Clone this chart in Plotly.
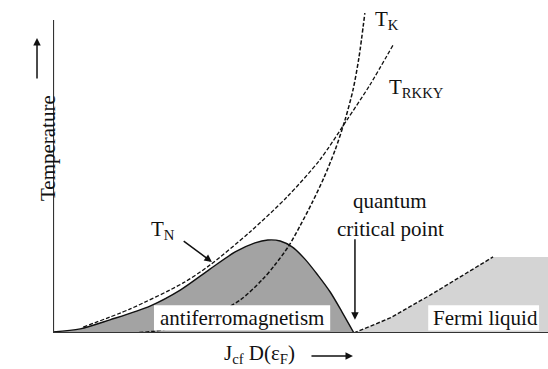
import plotly.graph_objects as go

# Doniach phase diagram: coupling J_cf D(eps_F) on x, temperature on y (arbitrary units)

# RKKY ordering scale
j_rkky = [0.61, 1.56, 2.63, 3.17, 3.98, 4.73, 5.39, 5.94, 6.40, 6.87]
t_rkky = [0.19, 0.77, 1.60, 2.17, 3.23, 4.35, 5.53, 6.81, 7.92, 9.20]

# Kondo scale
j_kondo = [1.62, 2.06, 2.67, 3.27, 3.78, 4.22, 4.48, 4.75, 4.99, 5.23, 5.47, 5.70, 5.90, 6.06, 6.18, 6.30]
t_kondo = [0.00, 0.06, 0.26, 0.61, 1.05, 1.69, 2.17, 2.75, 3.42, 4.15, 4.95, 5.85, 6.81, 7.76, 8.79, 10.22]

# Neel temperature (antiferromagnetic dome)
j_neel = [0.00, 0.55, 1.15, 1.96, 2.57, 3.17, 3.68, 4.08, 4.34, 4.59, 4.83, 5.09, 5.35, 5.60, 5.84, 6.08]
t_neel = [0.03, 0.13, 0.42, 0.86, 1.37, 2.04, 2.59, 2.88, 2.97, 2.94, 2.75, 2.36, 1.85, 1.31, 0.67, 0.00]

# Fermi-liquid crossover
j_fl = [6.08, 6.81, 7.62, 8.22, 8.89, 10.0]
t_fl = [0.00, 0.48, 1.21, 1.79, 2.43, 2.43]

j_qcp = 6.10

SERIF = "Liberation Serif"
INK = "#111111"
DARK = "#a3a3a3"
LIGHT = "#d4d4d4"

fig = go.Figure()

fig.add_trace(go.Scatter(x=j_fl, y=t_fl, mode="lines", fill="tozeroy",
                         fillcolor=LIGHT, line=dict(width=0, color=LIGHT),
                         hoverinfo="skip"))
fig.add_trace(go.Scatter(x=j_fl[:-1], y=t_fl[:-1], mode="lines",
                         line=dict(color=INK, width=1.4, dash="4px,2px")))
fig.add_trace(go.Scatter(x=j_neel, y=t_neel, mode="lines", fill="tozeroy",
                         fillcolor=DARK,
                         line=dict(color=INK, width=1.4, shape="spline", smoothing=0.8)))
fig.add_trace(go.Scatter(x=j_rkky, y=t_rkky, mode="lines",
                         line=dict(color=INK, width=1.3, dash="4px,2px",
                                   shape="spline", smoothing=0.8)))
fig.add_trace(go.Scatter(x=j_kondo, y=t_kondo, mode="lines",
                         line=dict(color=INK, width=1.5, dash="4px,2px",
                                   shape="spline", smoothing=0.8)))

# white label boxes and axis lines
shapes = [
    dict(type="rect", xref="x", yref="y", x0=2.04, x1=5.60, y0=0.08, y1=0.89,
         fillcolor="white", line=dict(width=0), layer="above"),
    dict(type="rect", xref="x", yref="y", x0=7.58, x1=9.82, y0=0.08, y1=0.89,
         fillcolor="white", line=dict(width=0), layer="above"),
    dict(type="line", xref="x", yref="y", x0=0, x1=10, y0=0, y1=0,
         line=dict(color="#333333", width=2.2), layer="above"),
    dict(type="line", xref="x", yref="y", x0=0, x1=0, y0=0, y1=10.0,
         line=dict(color="#333333", width=2.2), layer="above"),
]

font = dict(family=SERIF, size=21, color=INK)
annotations = [
    dict(x=3.82, y=0.48, xref="x", yref="y", text="antiferromagnetism",
         showarrow=False, font=font),
    dict(x=8.73, y=0.48, xref="x", yref="y", text="Fermi liquid",
         showarrow=False, font=font),
    dict(x=6.81, y=4.22, xref="x", yref="y", text="quantum",
         showarrow=False, font=font),
    dict(x=6.81, y=3.33, xref="x", yref="y", text="critical point",
         showarrow=False, font=font),
    dict(x=j_qcp, y=0.42, xref="x", yref="y", ax=j_qcp, ay=3.04,
         axref="x", ayref="y", text="", showarrow=True,
         arrowhead=2, arrowsize=1, arrowwidth=1.5, arrowcolor=INK),
    dict(x=3.21, y=2.27, xref="x", yref="y", ax=2.61, ay=2.97,
         axref="x", ayref="y", text="", showarrow=True,
         arrowhead=2, arrowsize=1, arrowwidth=1.5, arrowcolor=INK),
    dict(x=2.22, y=3.29, xref="x", yref="y", text="T<sub>N</sub>",
         showarrow=False, font=font),
    dict(x=6.75, y=10.0, xref="x", yref="y", text="T<sub>K</sub>",
         showarrow=False, font=font),
    dict(x=7.35, y=7.83, xref="x", yref="y", text="T<sub>RKKY</sub>",
         showarrow=False, font=font),
    # axis titles with their arrows
    dict(x=-0.038, y=0.556, xref="paper", yref="paper", text="Temperature",
         textangle=-90, showarrow=False, font=font),
    dict(x=-0.0323, y=0.886, xref="paper", yref="paper", ax=0, ay=42,
         text="", showarrow=True, arrowhead=2, arrowsize=1, arrowwidth=1.5,
         arrowcolor=INK),
    dict(x=0.418, y=-0.108, xref="paper", yref="paper",
         text="J<sub>cf</sub> D(ε<sub>F</sub>)", showarrow=False, font=font),
    dict(x=0.606, y=-0.069, xref="paper", yref="paper", ax=-43, ay=0,
         text="", showarrow=True, arrowhead=2, arrowsize=1, arrowwidth=1.5,
         arrowcolor=INK),
]

fig.update_layout(
    width=548, height=369, autosize=False,
    margin=dict(l=53, r=0, t=0, b=36),
    paper_bgcolor="white", plot_bgcolor="white",
    showlegend=False,
    xaxis=dict(range=[0, 10], visible=False, fixedrange=True),
    yaxis=dict(range=[0, 10.639], visible=False, fixedrange=True),
    shapes=shapes,
    annotations=annotations,
)

fig.write_html("out.html")
